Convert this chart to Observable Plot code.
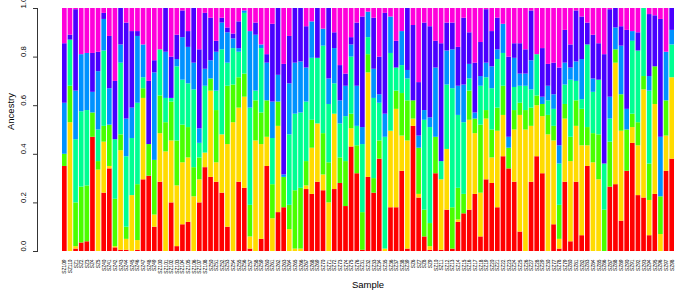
<!DOCTYPE html>
<html>
<head>
<meta charset="utf-8">
<script src="https://cdn.jsdelivr.net/npm/d3@7"></script>
<script src="https://cdn.jsdelivr.net/npm/@observablehq/plot@0.6"></script>
<style>
  html, body { margin: 0; padding: 0; background: #fff; }
  svg { display: block; }
</style>
</head>
<body>
<div id="chart"></div>
<script>
const samples = [
  "SZ109","SZ110","SZ1","SZ2","SZ3","SZ4","SZ5",
  "SZ40","SZ41","SZ42","SZ43","SZ44","SZ45","SZ46","SZ47","SZ48","SZ49",
  "SZ100","SZ101","SZ102","SZ103","SZ104","SZ105","SZ106","SZ107","SZ108",
  "SZ50","SZ51","SZ52","SZ53","SZ54","SZ55","SZ56","SZ57","SZ58","SZ59","SZ60","SZ61","SZ62","SZ63","SZ64","SZ65","SZ66","SZ67","SZ68","SZ69","SZ70","SZ71","SZ72","SZ73","SZ74","SZ75","SZ76",
  "SZ31","SZ32","SZ33","SZ34","SZ35","SZ36","SZ37","SZ38","SZ39",
  "SZ6","SZ7","SZ8","SZ9","SZ10","SZ11","SZ12","SZ13","SZ14","SZ15","SZ16","SZ17","SZ18","SZ19","SZ20","SZ21","SZ22","SZ23","SZ24","SZ25","SZ26","SZ27","SZ28","SZ29","SZ30",
  "SZ77","SZ78","SZ79","SZ80","SZ81","SZ82","SZ83","SZ84","SZ85","SZ86","SZ87","SZ88","SZ89","SZ90","SZ91","SZ92","SZ93","SZ94","SZ95","SZ96","SZ97","SZ98"
];

const clusters = ["K1","K2","K3","K4","K5","K6","K7"];
const clusterColors = ["#FF0000","#FFDB00","#49FF00","#00FF92","#0092FF","#4900FF","#FF00DB"];

const k1 = [.35,0,.01,.035,.04,.47,0,.24,.34,.015,.005,.005,0,.005,.295,.31,.10,.285,0,.20,.02,.11,.12,0,.20,.345,.305,.285,.24,.10,0,.285,.26,.01,0,.05,.35,0,.16,.18,0,0,0,.255,.235,.285,.25,0,.255,.28,.185,.43,.32,.005,.305,.24,.38,0,.18,.18,.33,.01,.515,.22,.06,.005,.32,.005,.17,.01,.12,.155,.17,.235,.06,.295,.28,.18,.39,.34,.285,.08,0,.285,.39,.32,0,.11,.01,.285,.04,.285,.065,.35,0,0,0,.265,.275,.125,.33,.445,.23,.22,.065,.235,0,.33,.38];
const k2 = [0,.53,.01,0,0,0,.335,.21,.01,.005,.41,.045,.23,.04,.335,0,.05,.20,.41,.255,.25,.255,.265,.225,.095,.06,.355,.08,.24,.34,.53,.305,.375,.05,.455,.39,.12,.135,.355,0,.09,.01,.01,.015,.19,.24,.065,.20,.31,0,0,.075,0,0,.43,0,0,.01,.315,.405,.145,.445,.03,.015,0,.015,0,.29,.25,0,.01,0,.37,.25,.18,.25,.105,.315,.17,0,.215,.48,.50,.23,.21,.235,.48,.345,.04,.26,.33,.23,.37,.085,.365,.295,0,0,.50,.37,0,.065,.205,.445,.145,.37,.07,.145,.335];
const k3 = [.05,.15,.18,.23,.23,.10,.035,.065,.17,.195,.065,.05,0,.23,.04,.13,.225,.155,.12,.16,.185,.155,.125,.12,.09,0,.05,.215,0,.24,.155,.125,.095,.13,.165,.13,.15,.14,.10,.125,.10,.24,.25,.10,.115,0,.17,.165,0,.105,.185,.06,.115,.155,.075,.06,.075,0,0,.075,.175,.165,.075,.19,.11,.095,.15,0,0,.17,.13,.08,.12,.06,.28,.035,.115,.095,.12,.085,.08,.05,.08,.075,.04,.05,.08,.06,.14,.06,.10,.105,.15,.075,.12,.185,.17,.185,.055,.15,.17,.055,.095,.055,.15,.155,.155,.145,0];
const k4 = [0,.19,.26,.31,.31,0,.13,.31,0,.245,.295,.29,.235,.335,.045,0,0,.19,.10,.015,.305,.185,.18,.32,.06,.275,0,.08,.35,.095,.15,.105,.25,.40,.04,.265,0,.19,0,0,.29,.315,.31,.245,.255,.27,.36,.24,.125,.14,.185,.235,.08,.28,.07,.33,.155,.46,.32,.095,.115,.09,0,0,.37,.395,0,.075,.265,.49,.30,.295,.05,0,.16,.135,.17,.20,.135,0,.095,.07,.10,.075,.17,0,.06,.07,.17,.08,.235,.08,.04,.34,.17,.225,.19,.095,0,0,0,.30,.295,.28,.30,0,0,0,.135];
const k5 = [.21,0,.20,.235,.235,.085,.24,.13,.15,0,.075,.155,.125,.275,.135,0,.36,0,.19,0,.03,.175,.15,.11,.06,.07,.075,.16,.11,.125,.04,.015,.01,.315,.23,.015,.155,.15,.11,.01,.21,.21,.21,.14,.15,0,.07,.105,.145,.095,.125,.05,.165,.07,.105,.12,.035,.095,.15,0,.14,.035,0,.05,.04,.04,.285,0,.14,.16,.12,.155,.06,.025,.04,.06,.09,.04,.12,.045,.12,.05,.05,.12,0,.03,.06,.06,.075,.09,.05,.08,.165,0,.055,0,0,.09,.09,.20,.085,.04,0,0,.06,0,.245,.20,.06];
const k6 = [.245,.02,.335,0,0,.16,.08,.025,.215,.24,.15,.395,.315,.02,0,.26,.05,0,.18,.17,.10,.11,.065,.225,.325,.23,.175,.045,.02,.02,.02,.11,0,0,.05,0,.035,.32,.275,.455,.195,.225,.22,.17,0,.205,0,.29,.065,.145,.05,.03,.26,.455,0,.21,.155,.415,0,.11,0,.255,.31,.22,.36,.375,.11,.485,.115,.11,.16,.275,.13,.205,.14,.22,.145,.13,0,.33,.06,.125,.10,.205,0,.20,.09,.13,.32,.135,.095,.21,.175,.09,.18,.15,.45,.36,.08,.08,.325,0,.075,0,.255,.21,.485,0,.09];
const k7 = [.145,.11,.005,.19,.185,.185,.18,.02,.115,.30,0,.06,.095,.095,.15,.30,.215,.17,0,.20,.11,.01,.095,0,.17,.02,.04,.135,.04,.08,.105,.055,.01,.095,.06,.15,.19,.065,0,.23,.115,0,0,.075,.055,0,.085,0,.10,.235,.27,.12,.06,.035,.015,.04,.20,.02,.035,.135,.095,0,.07,.305,.06,.075,.135,.145,.06,.06,.16,.04,.10,.225,.14,.005,.095,.04,.065,.20,.145,.145,.17,.01,.19,.165,.23,.225,.245,.09,.15,.01,.035,.06,.11,.145,.19,.005,0,.075,.09,.095,.10,0,.025,.03,.045,.18,0];

const series = [k1, k2, k3, k4, k5, k6, k7];
const rows = [];
clusters.forEach((k, j) => {
  samples.forEach((s, i) => rows.push({sample: s, cluster: k, q: series[j][i]}));
});

const yTicks = [0, 0.2, 0.4, 0.6, 0.8, 1.0];
const font = "'Liberation Sans', Arial, Helvetica, sans-serif";

const chart = Plot.plot({
  width: 675,
  height: 294,
  marginLeft: 37,
  marginRight: 1,
  marginTop: 8,
  marginBottom: 43,
  style: {fontFamily: font, background: "#fff", color: "#000"},
  x: {type: "band", domain: samples, range: [62, 674], paddingInner: 0.17, paddingOuter: 0},
  y: {domain: [0, 1]},
  color: {domain: clusters, range: clusterColors},
  marks: [
    Plot.barY(rows, {x: "sample", y: "q", fill: "cluster", order: null, clip: true}),
    Plot.frame({anchor: "left", stroke: "#000", strokeWidth: 0.8}),
    Plot.axisY({ticks: yTicks, tickSize: 4, tickFormat: () => "", strokeWidth: 0.8, label: null}),
    Plot.text(yTicks, {y: d => d, text: d => d.toFixed(1), frameAnchor: "left", dx: -14, rotate: -90, fontSize: 7.8, fill: "#000"}),
    Plot.text(["Ancestry"], {text: d => d, frameAnchor: "left", dx: -27, rotate: -90, fontSize: 9.5, fill: "#000"}),
    Plot.axisX({tickSize: 0, tickPadding: 8, tickRotate: -90, fontSize: 4.8, label: null}),
    Plot.text(["Sample"], {text: d => d, frameAnchor: "bottom", dx: 12, dy: 36, fontSize: 9.5, fill: "#000"})
  ]
});
document.getElementById("chart").appendChild(chart);
</script>
</body>
</html>
